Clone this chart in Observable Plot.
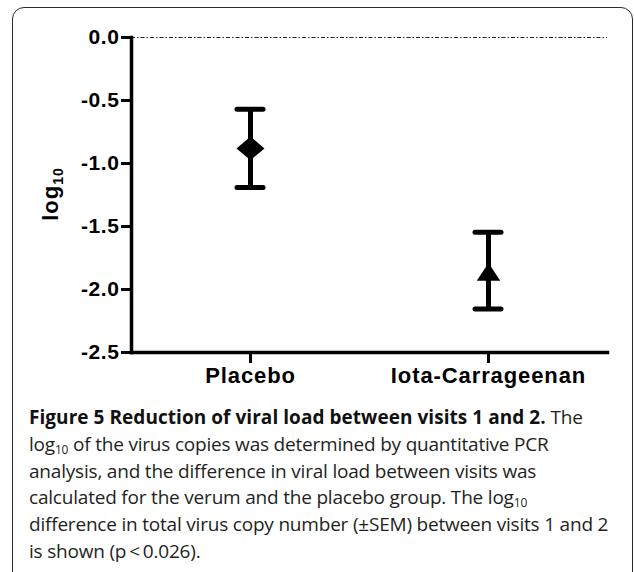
<!DOCTYPE html>
<html>
<head>
<meta charset="utf-8">
<script src="https://cdn.jsdelivr.net/npm/d3@7"></script>
<script src="https://cdn.jsdelivr.net/npm/@observablehq/plot@0.6"></script>
<style>
  html, body { margin: 0; padding: 0; background: #fff; width: 634px; height: 572px; overflow: hidden; }
  #frame { position: absolute; left: 12px; top: 7px; width: 621px; height: 600px; border: 1.5px solid #2a2a2a; border-radius: 12px; box-sizing: border-box; }
  #chart { position: absolute; left: 0; top: 0; }
  #chart svg text { font-family: "Liberation Sans", Arial, sans-serif; font-weight: bold; fill: #000; }
  g[aria-label="y-axis tick label"] text { letter-spacing: 0.6px; font-size: 21px; }
  g[aria-label="x-axis tick label"] text { letter-spacing: 0.9px; font-size: 22px; }
  #caption { position: absolute; left: 29px; top: 404px; width: 610px; font-family: "Open Sans", "Noto Sans", sans-serif; font-size: 19px; line-height: 26.8px; color: #231f20; white-space: nowrap; letter-spacing: -0.2px; }
  #caption b { color: #111; letter-spacing: 0.05px; }
  #caption sub { font-size: 12px; vertical-align: -3px; line-height: 0; }
</style>
</head>
<body>
<div id="frame"></div>
<div id="chart"></div>
<div id="caption">
  <b>Figure 5 Reduction of viral load between visits 1 and 2.</b> The<br>
  log<sub>10</sub> of the virus copies was determined by quantitative PCR<br>
  analysis, and the difference in viral load between visits was<br>
  calculated for the verum and the placebo group. The log<sub>10</sub><br>
  difference in total virus copy number (±SEM) between visits 1 and 2<br>
  is shown (p&thinsp;&lt;&thinsp;0.026).
</div>
<script>
const groups = ["Placebo", "Iota-Carrageenan"];
const means = [-0.88, -1.86];
const upper = [-0.57, -1.545];
const lower = [-1.19, -2.155];
const yTicks = [0, -0.5, -1.0, -1.5, -2.0, -2.5];
const yDomain = [-2.5, 0];

const rows = groups.map((g, i) => ({group: g, mean: means[i], hi: upper[i], lo: lower[i]}));

const wideDiamond = {
  draw(ctx, size) {
    const r = Math.sqrt(size / Math.PI);
    const w = r, h = r * 0.85;
    ctx.moveTo(0, -h); ctx.lineTo(w, 0); ctx.lineTo(0, h); ctx.lineTo(-w, 0); ctx.closePath();
  }
};
const wideTriangle = {
  draw(ctx, size) {
    const r = Math.sqrt(size / Math.PI);
    const w = r * 0.84, h = r * 0.64;
    ctx.moveTo(0, -h); ctx.lineTo(w, h); ctx.lineTo(-w, h); ctx.closePath();
  }
};

const chart = Plot.plot({
  width: 634,
  height: 392,
  marginLeft: 131,
  marginRight: 27,
  marginTop: 37,
  marginBottom: 40,
  style: {background: "transparent", overflow: "visible"},
  x: {type: "band", domain: groups, paddingInner: 0.891, paddingOuter: 0.445, label: null},
  y: {domain: yDomain, label: null},
  symbol: {domain: groups, range: [wideDiamond, wideTriangle]},
  marks: [
    Plot.ruleY([0], {stroke: "#222", strokeWidth: 1.2, strokeDasharray: "4,2,1.5,2"}),
    Plot.frame({anchor: "left", stroke: "#000", strokeWidth: 3.5}),
    Plot.frame({anchor: "bottom", stroke: "#000", strokeWidth: 3.5}),
    Plot.axisY({ticks: yTicks, tickFormat: d => d.toFixed(1), tickSize: 10, tickPadding: 2, stroke: "#000", strokeWidth: 3, fontSize: 21, label: null}),
    Plot.axisX({tickSize: 11, tickPadding: 4, stroke: "#000", strokeWidth: 3, fontSize: 22, label: null}),
    Plot.ruleX(rows, {x: "group", y1: "lo", y2: "hi", stroke: "#000", strokeWidth: 5}),
    Plot.tickY(rows, {x: "group", y: "hi", stroke: "#000", strokeWidth: 5, strokeLinecap: "round"}),
    Plot.tickY(rows, {x: "group", y: "lo", stroke: "#000", strokeWidth: 5, strokeLinecap: "round"}),
    Plot.dot(rows, {x: "group", y: "mean", symbol: "group", r: 14, fill: "#000", stroke: "none"})
  ]
});

document.getElementById("chart").appendChild(chart);

// rotated y-axis label with subscript
const svg = d3.select(chart);
const lbl = svg.append("text")
  .attr("transform", "translate(58,194) rotate(-90)")
  .attr("text-anchor", "middle")
  .style("font-size", "22px")
  .style("letter-spacing", "1px");
lbl.append("tspan").text("log");
lbl.append("tspan").attr("dy", 5).style("font-size", "14px").text("10");
</script>
</body>
</html>
